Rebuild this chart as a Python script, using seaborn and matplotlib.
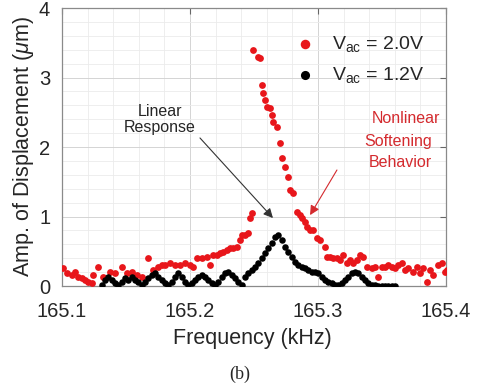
import numpy as np
import pandas as pd
import matplotlib
matplotlib.use("Agg")
import matplotlib.pyplot as plt
import seaborn as sns
from matplotlib.ticker import MultipleLocator

# ---------------- data ----------------
red_freq = [165.1010, 165.1036, 165.1076, 165.1102, 165.1128, 165.1154, 165.1180, 165.1206,
            165.1232, 165.1245, 165.1284, 165.1323, 165.1375, 165.1414, 165.1466, 165.1505,
            165.1544, 165.1583, 165.1622, 165.1674, 165.1714, 165.1753, 165.1779, 165.1805,
            165.1844, 165.1883, 165.1922, 165.1961, 165.2000, 165.2026, 165.2052, 165.2091,
            165.2130, 165.2156, 165.2182, 165.2208, 165.2234, 165.2260, 165.2286, 165.2313,
            165.2339, 165.2365, 165.2391, 165.2404, 165.2430, 165.2456, 165.2469, 165.2482,
            165.2495, 165.2534, 165.2547, 165.2560, 165.2573, 165.2586, 165.2599, 165.2625,
            165.2638, 165.2651, 165.2677, 165.2703, 165.2716, 165.2742, 165.2768, 165.2781,
            165.2807, 165.2833, 165.2859, 165.2872, 165.2898, 165.2911, 165.2938, 165.2964,
            165.2990, 165.3016, 165.3055, 165.3068, 165.3094, 165.3120, 165.3146, 165.3172,
            165.3198, 165.3224, 165.3250, 165.3276, 165.3302, 165.3328, 165.3354, 165.3380,
            165.3419, 165.3445, 165.3471, 165.3497, 165.3523, 165.3549, 165.3576, 165.3602,
            165.3628, 165.3654, 165.3680, 165.3706, 165.3745, 165.3771, 165.3797, 165.3823,
            165.3849, 165.3875, 165.3901, 165.3940, 165.3966, 165.3992, 165.4005]
red_amp = [0.254, 0.182, 0.158, 0.206, 0.134, 0.110, 0.086, 0.062,
           0.038, 0.158, 0.278, 0.134, 0.206, 0.182, 0.278, 0.182,
           0.206, 0.158, 0.134, 0.398, 0.230, 0.278, 0.302, 0.302,
           0.326, 0.302, 0.302, 0.326, 0.302, 0.278, 0.398, 0.398,
           0.422, 0.302, 0.446, 0.446, 0.470, 0.494, 0.518, 0.542,
           0.542, 0.566, 0.662, 0.734, 0.734, 0.758, 0.974, 1.046,
           3.396, 3.300, 3.276, 2.892, 2.772, 2.676, 2.580, 2.556,
           2.460, 2.365, 2.293, 2.053, 1.837, 1.717, 1.573, 1.381,
           1.333, 1.070, 1.022, 0.974, 0.926, 0.854, 0.806, 0.806,
           0.686, 0.662, 0.566, 0.422, 0.422, 0.398, 0.398, 0.374,
           0.446, 0.326, 0.374, 0.326, 0.374, 0.446, 0.422, 0.278,
           0.254, 0.278, 0.134, 0.278, 0.278, 0.302, 0.278, 0.254,
           0.302, 0.326, 0.230, 0.254, 0.206, 0.278, 0.182, 0.254,
           0.062, 0.230, 0.158, 0.302, 0.326, 0.206, 0.230]

black_freq = [165.1310, 165.1336, 165.1362, 165.1388, 165.1414, 165.1440, 165.1466, 165.1492,
              165.1518, 165.1544, 165.1570, 165.1596, 165.1622, 165.1648, 165.1674, 165.1701,
              165.1727, 165.1753, 165.1779, 165.1805, 165.1831, 165.1857, 165.1883, 165.1909,
              165.1935, 165.1961, 165.1987, 165.2013, 165.2039, 165.2065, 165.2091, 165.2117,
              165.2143, 165.2169, 165.2195, 165.2221, 165.2247, 165.2273, 165.2299, 165.2326,
              165.2352, 165.2378, 165.2404, 165.2430, 165.2456, 165.2482, 165.2508, 165.2534,
              165.2560, 165.2586, 165.2612, 165.2638, 165.2664, 165.2690, 165.2716, 165.2742,
              165.2768, 165.2794, 165.2820, 165.2846, 165.2872, 165.2898, 165.2924, 165.2951,
              165.2977, 165.3003, 165.3029, 165.3055, 165.3081, 165.3107, 165.3133, 165.3159,
              165.3185, 165.3211, 165.3237, 165.3263, 165.3289, 165.3315, 165.3341, 165.3367,
              165.3393, 165.3419, 165.3445, 165.3471, 165.3497, 165.3523, 165.3549, 165.3576,
              165.3602]
black_amp = [0.014, 0.086, 0.134, 0.086, 0.038, 0.014, 0.062, 0.110,
             0.086, 0.134, 0.086, 0.062, 0.014, 0.062, 0.110, 0.158,
             0.182, 0.134, 0.086, 0.038, 0.014, 0.062, 0.134, 0.182,
             0.134, 0.062, 0.014, 0.038, 0.086, 0.134, 0.158, 0.134,
             0.086, 0.038, 0.014, 0.062, 0.134, 0.182, 0.206, 0.158,
             0.110, 0.062, 0.014, 0.134, 0.182, 0.230, 0.278, 0.326,
             0.398, 0.470, 0.542, 0.614, 0.710, 0.734, 0.662, 0.566,
             0.494, 0.422, 0.350, 0.302, 0.278, 0.254, 0.230, 0.206,
             0.206, 0.182, 0.134, 0.086, 0.062, 0.038, 0.014, 0.014,
             0.038, 0.086, 0.134, 0.182, 0.206, 0.182, 0.134, 0.086,
             0.038, 0.014, 0.014, 0.0, 0.0, 0.0, 0.0, 0.0,
             0.0]

series_labels = [r"V$_{\mathrm{ac}}$ = 2.0V", r"V$_{\mathrm{ac}}$ = 1.2V"]
x_ticks = [165.1, 165.2, 165.3, 165.4]
y_ticks = [0, 1, 2, 3, 4]

# ---------------- plot ----------------
sns.set_style("white")
plt.rcParams['font.family'] = ['Liberation Sans', 'DejaVu Sans']
plt.rcParams['mathtext.fontset'] = 'custom'
plt.rcParams['mathtext.rm'] = 'Liberation Sans'
plt.rcParams['mathtext.it'] = 'Liberation Sans:italic'

fig = plt.figure(figsize=(4.79, 3.89), dpi=100)
ax = fig.add_axes([62/479, 1 - 286/389, (446 - 62)/479, (286 - 8)/389])

df = pd.concat([
    pd.DataFrame({"freq": red_freq, "amp": red_amp, "series": series_labels[0]}),
    pd.DataFrame({"freq": black_freq, "amp": black_amp, "series": series_labels[1]}),
])
red = "#e8161b"

sns.scatterplot(data=df[df.series == series_labels[0]], x="freq", y="amp", color=red,
                s=24, linewidth=0, ax=ax, label=series_labels[0], zorder=3)
sns.scatterplot(data=df[df.series == series_labels[1]], x="freq", y="amp", color="black",
                s=22, linewidth=0, ax=ax, label=series_labels[1], zorder=3)

ax.set_xlim(165.1, 165.4)
ax.set_ylim(0, 4)
ax.set_xticks(x_ticks)
ax.set_xticklabels([f"{t:.1f}" for t in x_ticks])
ax.set_yticks(y_ticks)
ax.xaxis.set_minor_locator(MultipleLocator(0.02))
ax.yaxis.set_minor_locator(MultipleLocator(0.2))
ax.grid(which="major", color="#d4d4d4", linewidth=0.7)
ax.grid(which="minor", color="#ebebeb", linewidth=0.6)
ax.set_axisbelow(True)
ax.tick_params(which="major", direction="in", length=4, color="#666666",
               labelsize=14.5, labelcolor="#262626", top=True, right=True)
ax.tick_params(axis="x", which="major", pad=11.5)
ax.tick_params(axis="y", which="major", pad=8.5)
ax.tick_params(which="minor", length=0)
for sp in ax.spines.values():
    sp.set_color("#8a8a8a")
    sp.set_linewidth(0.9)

ax.set_xlabel("Frequency (kHz)", fontsize=15.5, color="#262626")
ax.set_ylabel(r"Amp. of Displacement ($\mu$m)", fontsize=15.5, color="#262626")
ax.xaxis.set_label_coords(0.497, -0.152)
ax.yaxis.set_label_coords(-0.068, 0.5)

leg = ax.legend(loc="upper left", bbox_to_anchor=(0.6076, 0.905), frameon=False,
                fontsize=14, markerscale=1.4, handlelength=1.0, handletextpad=0.9,
                labelspacing=0.55, borderpad=0.0, borderaxespad=0.0)

# annotations (arrows and texts)
ax.annotate("", xy=(165.2648, 0.978), xytext=(165.2078, 2.13),
            arrowprops=dict(arrowstyle="-|>", color="#333333", lw=0.8,
                            mutation_scale=14, shrinkA=0, shrinkB=0))
ax.text(165.1766, 2.396, "Linear\nResponse", fontsize=11.5, ha="center", va="center",
        color="#262626", linespacing=1.15)
ax.annotate("", xy=(165.2938, 1.02), xytext=(165.3148, 1.669),
            arrowprops=dict(arrowstyle="-|>", color="#d42a2e", lw=0.8,
                            mutation_scale=14, shrinkA=0, shrinkB=0))
red_text = "#d42a2e"
ax.text(165.3688, 2.403, "Nonlinear", fontsize=11.5, ha="center", va="center", color=red_text)
ax.text(165.3629, 2.072, "Softening", fontsize=11.5, ha="center", va="center", color=red_text)
ax.text(165.3641, 1.784, "Behavior", fontsize=11.5, ha="center", va="center", color=red_text)

fig.text(0.5, 1 - 374/389, "(b)", ha="center", va="center", fontsize=13,
         family=["Liberation Serif", "DejaVu Serif"])

fig.savefig("out.png", dpi=100)
